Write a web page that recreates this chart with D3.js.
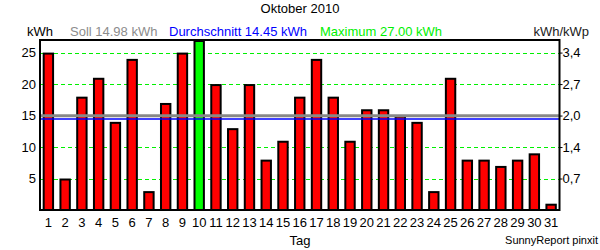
<!DOCTYPE html>
<html><head><meta charset="utf-8">
<script src="https://cdn.jsdelivr.net/npm/d3@7"></script>
<style>
body{margin:0;background:#fff;}
text{font-family:"Liberation Sans",Arial,sans-serif;}
</style></head>
<body><svg id="c" width="600" height="250"></svg>
<script>
const days = d3.range(1, 32).map(String);
const values = [25,5,18,21,14,24,3,17,25,27,20,13,20,8,11,18,24,18,11,16,16,15,14,3,21,8,8,7,8,9,1];
const leftTicks = [5,10,15,20,25];
const rightTickLabels = ["0,7","1,4","2,0","2,7","3,4"];
const soll = 14.98, avg = 14.45, maxVal = 27.00;
const title = "Oktober 2010";

const svg = d3.select("#c");
const FS = 13;
const L = 40, R = 559.5, T = 40, B = 210;
const x = d3.scaleBand().domain(days).range([L, R]).paddingInner(0.32).paddingOuter(0.16);
const y = d3.scaleLinear().domain([0, 27]).range([B, T]);

// title
svg.append("text").attr("x", 300).attr("y", 12.5).attr("text-anchor","middle")
  .attr("font-size", FS).attr("fill","#000").text(title);
// legend row
svg.append("text").attr("x", 27).attr("y", 36).attr("font-size", FS).attr("fill","#000").text("kWh");
svg.append("text").attr("x", 70).attr("y", 36).attr("font-size", FS).attr("fill","#8c8c8c").text("Soll " + soll.toFixed(2) + " kWh");
svg.append("text").attr("x", 169).attr("y", 36).attr("font-size", FS).attr("fill","#0000ff").text("Durchschnitt " + avg.toFixed(2) + " kWh");
svg.append("text").attr("x", 320).attr("y", 36).attr("font-size", FS).attr("fill","#00f000").text("Maximum " + maxVal.toFixed(2) + " kWh");
svg.append("text").attr("x", 589).attr("y", 36).attr("text-anchor","end").attr("font-size", FS).attr("fill","#1a1a1a").text("kWh/kWp");

// gridlines
svg.append("g").selectAll("line").data(leftTicks).join("line")
  .attr("x1", L).attr("x2", R).attr("y1", d => Math.round(y(d))+0.5).attr("y2", d => Math.round(y(d))+0.5)
  .attr("stroke", "#00f000").attr("stroke-width", 1).attr("stroke-dasharray", "4,3");

// bars
svg.append("g").selectAll("rect").data(values).join("rect")
  .attr("x", (d,i) => x(days[i]) + 1)
  .attr("y", d => y(d) + 1)
  .attr("width", x.bandwidth() - 2)
  .attr("height", d => B - y(d) - 1)
  .attr("fill", d => d === maxVal ? "#00ff00" : "#ff0000")
  .attr("stroke", "#000").attr("stroke-width", 2);

// soll and average lines
svg.append("line").attr("x1", L).attr("x2", R).attr("y1", y(soll)).attr("y2", y(soll))
  .attr("stroke", "#888").attr("stroke-width", 3);
svg.append("line").attr("x1", L).attr("x2", R).attr("y1", y(avg)).attr("y2", y(avg))
  .attr("stroke", "#0000ff").attr("stroke-width", 1.5);

// frame
svg.append("rect").attr("x", L).attr("y", T).attr("width", R - L).attr("height", B - T)
  .attr("fill","none").attr("stroke","#000").attr("stroke-width", 2);

// left axis
const gl = svg.append("g").attr("transform", `translate(${L-1},0)`)
  .call(d3.axisLeft(y).tickValues(leftTicks).tickSize(0).tickPadding(3));
gl.select(".domain").remove();
gl.selectAll("text").attr("font-size", FS).attr("fill","#000").attr("font-family","Liberation Sans, Arial, sans-serif");

// right axis
const gr = svg.append("g").attr("transform", `translate(${R},0)`)
  .call(d3.axisRight(y).tickValues(leftTicks).tickFormat((d,i) => rightTickLabels[i]).tickSize(3).tickPadding(0));
gr.select(".domain").remove();
gr.selectAll("line").attr("stroke","#000");
gr.selectAll("text").attr("font-size", FS).attr("fill","#000").attr("font-family","Liberation Sans, Arial, sans-serif");

// bottom axis
const gb = svg.append("g").attr("transform", `translate(0,${B})`)
  .call(d3.axisBottom(x).tickSize(0).tickPadding(8));
gb.select(".domain").remove();
gb.selectAll("text").attr("font-size", FS).attr("fill","#000").attr("font-family","Liberation Sans, Arial, sans-serif");

svg.append("text").attr("x", 300).attr("y", 245).attr("text-anchor","middle")
  .attr("font-size", FS).attr("fill","#000").text("Tag");
svg.append("text").attr("x", 598).attr("y", 244).attr("text-anchor","end")
  .attr("font-size", 11).attr("fill","#000").text("SunnyReport pinxit");
</script></body></html>
